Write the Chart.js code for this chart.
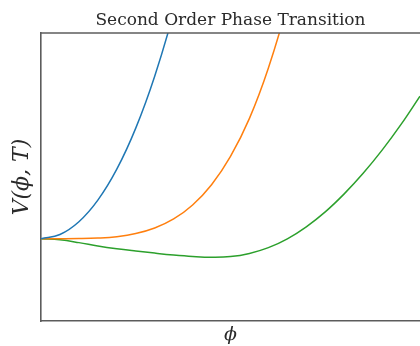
<!DOCTYPE html>
<html>
<head>
<meta charset="utf-8">
<script src="https://cdn.jsdelivr.net/npm/chart.js@4/dist/chart.umd.min.js"></script>
<style>
  html, body { margin: 0; padding: 0; background: #fff; overflow: hidden; }
  #wrap { width: 420px; height: 346px; }
</style>
</head>
<body>
<div id="wrap"><canvas id="chart"></canvas></div>
<script>
// field values along the horizontal axis
const phi = [0, 0.1, 0.2, 0.3, 0.4, 0.5, 0.6, 0.7, 0.8, 0.9, 1.0,
             1.1, 1.2, 1.3, 1.4, 1.5, 1.6, 1.7, 1.8, 1.9, 2.0];

// potential above the critical temperature
const vHigh = [0, 0.041, 0.165, 0.375, 0.676, 1.075, 1.58, 2.20, 2.95,
               null, null, null, null, null, null, null, null, null, null, null, null];

// potential at the critical temperature
const vCrit = [0, 0.0001, 0.0013, 0.0065, 0.020, 0.050, 0.104, 0.192, 0.328, 0.525, 0.80,
               1.17, 1.66, 2.28, 3.07, null, null, null, null, null, null];

// potential below the critical temperature
const vLow = [0, -0.011, -0.038, -0.071, -0.098, -0.120, -0.140, -0.158, -0.172, -0.180, -0.174,
              -0.143, -0.087, -0.001, 0.116, 0.261, 0.436, 0.636, 0.861, 1.111, 1.386];

const frameColor = '#5c5c5c';
const textColor = '#2a2a2a';

// top edge of the axes box (left and bottom come from the scales)
const topFrame = {
  id: 'topFrame',
  afterDraw(chart) {
    const { ctx, chartArea } = chart;
    ctx.save();
    ctx.strokeStyle = frameColor;
    ctx.lineWidth = 1.6;
    ctx.beginPath();
    ctx.moveTo(chartArea.left, chartArea.top);
    ctx.lineTo(chartArea.right, chartArea.top);
    ctx.stroke();
    ctx.restore();
  }
};

const line = (data, color) => ({
  data: data,
  borderColor: color,
  borderWidth: 1.5,
  pointRadius: 0,
  fill: false,
  tension: 0.4,
  spanGaps: false
});

new Chart(document.getElementById('chart'), {
  type: 'line',
  data: {
    labels: phi,
    datasets: [
      line(vHigh, '#1f77b4'),
      line(vCrit, '#ff7f0e'),
      line(vLow, '#2ca02c')
    ]
  },
  options: {
    responsive: true,
    maintainAspectRatio: false,
    animation: false,
    layout: { padding: 0 },
    plugins: {
      legend: { display: false },
      tooltip: { enabled: false },
      title: {
        display: true,
        fullSize: false,
        text: 'Second Order Phase Transition',
        color: textColor,
        font: { family: 'DejaVu Serif', size: 17, weight: 'normal', lineHeight: 1.2 },
        padding: { top: 10, bottom: 2.6 }
      }
    },
    scales: {
      x: {
        type: 'linear',
        min: 0,
        max: 2.0,
        ticks: { display: false },
        grid: { display: false, drawTicks: false },
        border: { display: true, color: frameColor, width: 1.6 },
        title: {
          display: true,
          text: 'ϕ',
          color: textColor,
          font: { family: 'DejaVu Serif', size: 19, style: 'italic' },
          padding: { top: 0, bottom: 0 }
        },
        afterFit(scale) { scale.height = 25; }
      },
      y: {
        min: -0.8,
        max: 2.0,
        ticks: { display: false },
        grid: { display: false, drawTicks: false },
        border: { display: true, color: frameColor, width: 1.6 },
        title: {
          display: true,
          text: 'V(ϕ, T)',
          color: textColor,
          font: { family: 'DejaVu Serif', size: 22, style: 'italic' },
          padding: { top: 9, bottom: 0 }
        },
        afterFit(scale) { scale.width = 41; }
      }
    }
  },
  plugins: [topFrame]
});
</script>
</body>
</html>
